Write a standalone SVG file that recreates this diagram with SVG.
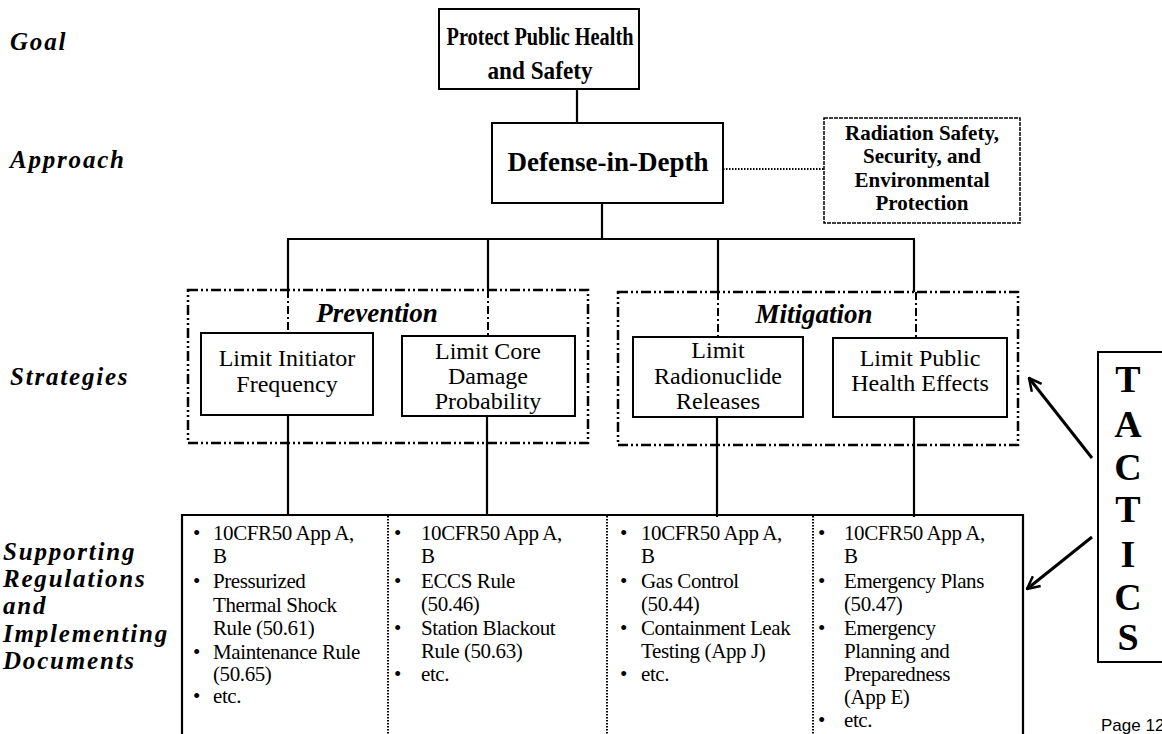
<svg xmlns="http://www.w3.org/2000/svg" width="1162" height="734" viewBox="0 0 1162 734">
<style>
.lbl{font-family:"Liberation Serif",serif;font-weight:bold;font-style:italic;font-size:25px;letter-spacing:1.8px;fill:#000}
.box{fill:#fff;stroke:#000;stroke-width:2}
.bt{font-family:"Liberation Serif",serif;font-weight:bold;fill:#000;text-anchor:middle}
.st{font-family:"Liberation Serif",serif;font-size:24px;fill:#000;text-anchor:middle}
.grp{fill:none;stroke:#000;stroke-width:2.5;stroke-dasharray:10 3 2 3 2 3}
.gt{font-family:"Liberation Serif",serif;font-weight:bold;font-style:italic;font-size:27px;fill:#000;text-anchor:middle}
.ln{stroke:#000;stroke-width:2.2;fill:none}
.dd{stroke:#000;stroke-width:2;fill:none;stroke-dasharray:8 3 2 3}
.dot{stroke:#000;stroke-width:2;fill:none;stroke-dasharray:1.5 1.5}
.tt{font-family:"Liberation Serif",serif;font-size:21px;fill:#000;letter-spacing:-0.4px}
.arr{stroke:#000;stroke-width:3;fill:none}
</style>
<defs>
<marker id="ah" viewBox="0 0 12 12" refX="11" refY="6" markerWidth="5" markerHeight="5" orient="auto" markerUnits="strokeWidth">
<path d="M1,1 L11,6 L1,11" fill="none" stroke="#000" stroke-width="2"/>
</marker>
</defs>
<rect width="1162" height="734" fill="#fff"/>

<g id="labels">
<text class="lbl" x="10" y="50">Goal</text>
<text class="lbl" x="10" y="168">Approach</text>
<text class="lbl" x="10" y="385">Strategies</text>
<text class="lbl" x="3" y="560">Supporting</text>
<text class="lbl" x="3" y="587">Regulations</text>
<text class="lbl" x="3" y="614">and</text>
<text class="lbl" x="3" y="642">Implementing</text>
<text class="lbl" x="3" y="669">Documents</text>
</g>

<g id="connectors">
<line class="ln" x1="577" y1="89" x2="577" y2="123"/>
<line class="dot" x1="723" y1="169" x2="824" y2="169"/>
<line class="ln" x1="602" y1="203" x2="602" y2="239"/>
<line class="ln" x1="287" y1="239" x2="915" y2="239"/>
<line class="ln" x1="288" y1="239" x2="288" y2="290"/>
<line class="ln" x1="488" y1="239" x2="488" y2="290"/>
<line class="ln" x1="718" y1="239" x2="718" y2="292"/>
<line class="ln" x1="914" y1="239" x2="914" y2="292"/>
<line class="dd" x1="288" y1="290" x2="288" y2="333"/>
<line class="dd" x1="488" y1="290" x2="488" y2="336"/>
<line class="dd" x1="718" y1="292" x2="718" y2="337"/>
<line class="dd" x1="916" y1="292" x2="916" y2="338"/>
<line class="ln" x1="288" y1="415" x2="288" y2="515"/>
<line class="ln" x1="487" y1="416" x2="487" y2="515"/>
<line class="ln" x1="717" y1="417" x2="717" y2="517"/>
<line class="ln" x1="914" y1="417" x2="914" y2="517"/>
<line class="arr" x1="1092" y1="458" x2="1029" y2="378" marker-end="url(#ah)"/>
<line class="arr" x1="1092" y1="537" x2="1027" y2="589" marker-end="url(#ah)"/>
</g>

<g id="goal">
<rect class="box" x="439" y="9" width="200" height="80"/>
<text class="bt" x="540" y="45" font-size="25" textLength="187" lengthAdjust="spacingAndGlyphs">Protect Public Health</text>
<text class="bt" x="540" y="79" font-size="25" textLength="105" lengthAdjust="spacingAndGlyphs">and Safety</text>
</g>

<g id="defense">
<rect class="box" x="492" y="123" width="231" height="80"/>
<text class="bt" x="608" y="171" font-size="27">Defense-in-Depth</text>
</g>

<g id="radiation">
<rect x="824" y="118" width="196" height="105" fill="#fff" stroke="#000" stroke-width="1.5" stroke-dasharray="4 1"/>
<text class="bt" x="922" y="140" font-size="21">Radiation Safety,</text>
<text class="bt" x="922" y="163" font-size="21">Security, and</text>
<text class="bt" x="922" y="187" font-size="21">Environmental</text>
<text class="bt" x="922" y="210" font-size="21">Protection</text>
</g>

<g id="prevention">
<rect class="grp" x="188" y="290" width="400" height="153"/>
<text class="gt" x="377" y="322">Prevention</text>
</g>

<g id="mitigation">
<rect class="grp" x="618" y="292" width="400" height="153"/>
<text class="gt" x="814" y="323">Mitigation</text>
</g>

<g id="initiator">
<rect class="box" x="201" y="333" width="172" height="82"/>
<text class="st" x="287" y="366">Limit Initiator</text>
<text class="st" x="287" y="392">Frequency</text>
</g>

<g id="coredamage">
<rect class="box" x="402" y="336" width="173" height="80"/>
<text class="st" x="488" y="359">Limit Core</text>
<text class="st" x="488" y="384">Damage</text>
<text class="st" x="488" y="409">Probability</text>
</g>

<g id="radionuclide">
<rect class="box" x="633" y="337" width="170" height="80"/>
<text class="st" x="718" y="358">Limit</text>
<text class="st" x="718" y="384">Radionuclide</text>
<text class="st" x="718" y="409">Releases</text>
</g>

<g id="publichealth">
<rect class="box" x="833" y="338" width="174" height="79"/>
<text class="st" x="920" y="366" font-size="23">Limit Public</text>
<text class="st" x="920" y="391" font-size="23">Health Effects</text>
</g>

<g id="regulations">
<polyline class="ln" points="182,734 182,515 1023,515 1023,734"/>
<line class="dot" x1="388" y1="516" x2="388" y2="734"/>
<line class="dot" x1="607" y1="516" x2="607" y2="734"/>
<line class="dot" x1="813" y1="516" x2="813" y2="734"/>
<g class="tt">
<text x="193" y="540">•</text><text x="213" y="540">10CFR50 App A,</text>
<text x="213" y="563">B</text>
<text x="193" y="588">•</text><text x="213" y="588">Pressurized</text>
<text x="213" y="612">Thermal Shock</text>
<text x="213" y="635">Rule (50.61)</text>
<text x="193" y="659">•</text><text x="213" y="659">Maintenance Rule</text>
<text x="213" y="681">(50.65)</text>
<text x="193" y="703">•</text><text x="213" y="703">etc.</text>

<text x="394" y="540">•</text><text x="421" y="540">10CFR50 App A,</text>
<text x="421" y="563">B</text>
<text x="394" y="588">•</text><text x="421" y="588">ECCS Rule</text>
<text x="421" y="611">(50.46)</text>
<text x="394" y="635">•</text><text x="421" y="635">Station Blackout</text>
<text x="421" y="658">Rule (50.63)</text>
<text x="394" y="681">•</text><text x="421" y="681">etc.</text>

<text x="620" y="540">•</text><text x="641" y="540">10CFR50 App A,</text>
<text x="641" y="563">B</text>
<text x="620" y="588">•</text><text x="641" y="588">Gas Control</text>
<text x="641" y="611">(50.44)</text>
<text x="620" y="635">•</text><text x="641" y="635">Containment Leak</text>
<text x="641" y="658">Testing (App J)</text>
<text x="620" y="681">•</text><text x="641" y="681">etc.</text>

<text x="818" y="540">•</text><text x="844" y="540">10CFR50 App A,</text>
<text x="844" y="563">B</text>
<text x="818" y="588">•</text><text x="844" y="588">Emergency Plans</text>
<text x="844" y="611">(50.47)</text>
<text x="818" y="635">•</text><text x="844" y="635">Emergency</text>
<text x="844" y="658">Planning and</text>
<text x="844" y="681">Preparedness</text>
<text x="844" y="704">(App E)</text>
<text x="818" y="727">•</text><text x="844" y="727">etc.</text>
</g>
</g>

<g id="tactics">
<rect class="box" x="1098" y="352" width="80" height="310"/>
<text class="bt" x="1128" y="392" font-size="38">T</text>
<text class="bt" x="1128" y="437" font-size="38">A</text>
<text class="bt" x="1128" y="480" font-size="38">C</text>
<text class="bt" x="1128" y="522" font-size="38">T</text>
<text class="bt" x="1128" y="567" font-size="38">I</text>
<text class="bt" x="1128" y="610" font-size="38">C</text>
<text class="bt" x="1128" y="650" font-size="38">S</text>
</g>

<text x="1101" y="731" font-family="Liberation Sans, sans-serif" font-size="17" fill="#000">Page 12</text>
</svg>
